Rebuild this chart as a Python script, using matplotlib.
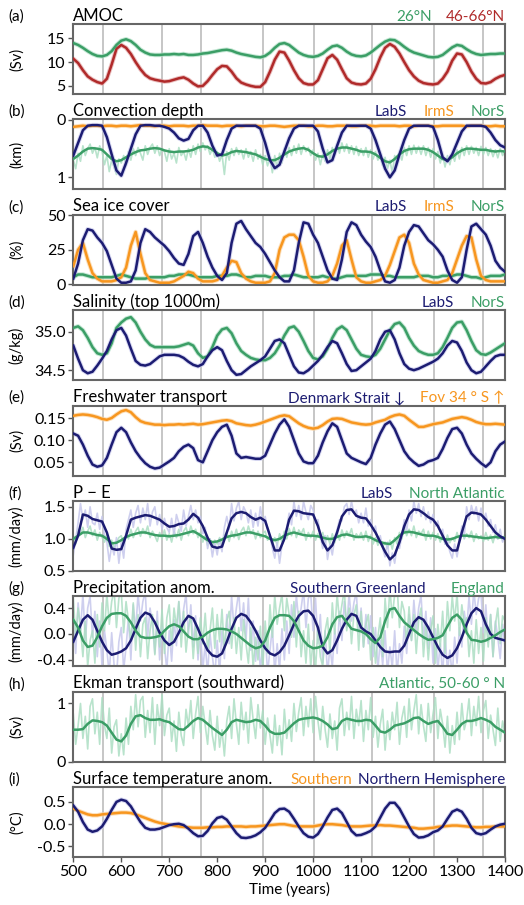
import numpy as np
import matplotlib
matplotlib.use('Agg')
import matplotlib.pyplot as plt
from matplotlib.ticker import FormatStrFormatter

plt.rcParams['font.family'] = ['Lato', 'DejaVu Sans']

# ---- data ----
years = np.arange(500, 1401, 10)
years_raw = np.arange(500, 1401, 5)
event_years = [561, 685, 766, 895, 1002, 1122, 1252, 1354]

# (a) AMOC (Sv)
amoc_26n = [14.0, 13.6, 13.0, 12.3, 11.7, 11.3, 11.2, 11.5, 12.3, 13.6,
            14.5, 14.8, 14.4, 13.6, 12.6, 12.0, 11.6, 11.5, 11.5, 11.6,
            11.6, 11.7, 11.6, 11.7, 11.5, 11.5, 11.6, 11.8, 11.9, 12.1,
            12.3, 12.5, 12.6, 12.4, 12.0, 11.7, 11.5, 11.3, 11.1, 11.0,
            11.3, 12.0, 13.0, 13.8, 14.0, 13.6, 12.8, 12.0, 11.5, 11.2,
            11.1, 11.3, 11.8, 12.6, 13.3, 13.5, 13.0, 12.2, 11.6, 11.3,
            11.2, 11.4, 12.0, 12.8, 13.6, 14.3, 14.7, 14.6, 14.0, 13.2,
            12.5, 12.0, 11.7, 11.4, 11.1, 11.0, 11.1, 11.5, 12.3, 13.1,
            13.6, 13.4, 12.7, 12.1, 11.7, 11.5, 11.6, 11.7, 11.7, 11.8,
            11.8]
amoc_4666n = [10.7, 9.8, 8.3, 7.0, 6.3, 5.8, 5.5, 6.5, 9.5, 12.8,
              13.6, 13.0, 11.7, 10.0, 8.5, 7.3, 6.6, 6.3, 6.1, 5.9,
              6.0, 6.3, 6.6, 6.8, 6.3, 5.5, 4.9, 5.0, 6.0, 7.3,
              8.5, 9.2, 9.1, 8.0, 6.6, 5.7, 5.3, 5.0, 4.8, 4.8,
              5.8, 8.0, 10.5, 12.2, 12.0, 10.3, 8.3, 6.6, 5.6, 5.3,
              5.3, 6.2, 8.5, 10.8, 11.5, 10.5, 8.5, 6.6, 5.7, 5.4,
              5.3, 5.5, 6.5, 8.5, 11.0, 13.0, 13.8, 13.2, 11.8, 10.0,
              8.3, 7.0, 6.1, 5.6, 5.4, 5.3, 5.5, 6.5, 8.0, 10.3,
              11.8, 11.6, 10.0, 8.0, 6.5, 5.6, 5.5, 5.8, 6.5, 7.0,
              7.3]

# (b) convection depth (km)
conv_labs = [0.62, 0.40, 0.18, 0.10, 0.09, 0.09, 0.10, 0.30, 0.60, 0.88,
             0.97, 0.75, 0.50, 0.25, 0.10, 0.09, 0.09, 0.10, 0.10, 0.12,
             0.15, 0.22, 0.32, 0.36, 0.33, 0.18, 0.10, 0.10, 0.22, 0.45,
             0.62, 0.60, 0.35, 0.15, 0.10, 0.10, 0.10, 0.10, 0.10, 0.15,
             0.40, 0.70, 0.84, 0.78, 0.55, 0.32, 0.15, 0.10, 0.10, 0.10,
             0.10, 0.20, 0.50, 0.74, 0.70, 0.45, 0.22, 0.10, 0.10, 0.10,
             0.10, 0.10, 0.15, 0.35, 0.60, 0.85, 1.00, 0.88, 0.60, 0.35,
             0.15, 0.10, 0.10, 0.10, 0.10, 0.12, 0.35, 0.65, 0.72, 0.60,
             0.40, 0.20, 0.10, 0.10, 0.10, 0.10, 0.12, 0.22, 0.35, 0.44,
             0.48]
conv_irms = [0.12, 0.11, 0.10, 0.11, 0.10, 0.10, 0.11, 0.10, 0.10, 0.11,
             0.10, 0.10, 0.11, 0.10, 0.09, 0.10, 0.10, 0.11, 0.10, 0.10,
             0.11, 0.10, 0.10, 0.10, 0.11, 0.10, 0.10, 0.09, 0.10, 0.10,
             0.10, 0.11, 0.10, 0.10, 0.10, 0.11, 0.10, 0.10, 0.10, 0.11,
             0.11, 0.10, 0.10, 0.11, 0.12, 0.11, 0.10, 0.10, 0.10, 0.11,
             0.11, 0.10, 0.10, 0.11, 0.11, 0.10, 0.10, 0.10, 0.11, 0.11,
             0.10, 0.10, 0.10, 0.11, 0.10, 0.10, 0.10, 0.10, 0.11, 0.10,
             0.10, 0.11, 0.10, 0.10, 0.10, 0.11, 0.11, 0.10, 0.10, 0.10,
             0.10, 0.10, 0.11, 0.10, 0.10, 0.10, 0.11, 0.11, 0.10, 0.11,
             0.11]
conv_nors = [0.68, 0.62, 0.55, 0.50, 0.49, 0.50, 0.52, 0.60, 0.68, 0.72,
             0.70, 0.65, 0.60, 0.56, 0.53, 0.52, 0.50, 0.49, 0.50, 0.53,
             0.55, 0.56, 0.55, 0.55, 0.54, 0.52, 0.48, 0.46, 0.47, 0.52,
             0.58, 0.62, 0.60, 0.56, 0.54, 0.55, 0.56, 0.58, 0.60, 0.64,
             0.68, 0.70, 0.70, 0.66, 0.60, 0.55, 0.52, 0.50, 0.49, 0.52,
             0.58, 0.63, 0.64, 0.60, 0.54, 0.50, 0.48, 0.48, 0.50, 0.52,
             0.55, 0.55, 0.56, 0.60, 0.66, 0.72, 0.74, 0.68, 0.60, 0.54,
             0.51, 0.50, 0.50, 0.50, 0.52, 0.56, 0.62, 0.68, 0.70, 0.65,
             0.58, 0.53, 0.50, 0.50, 0.51, 0.52, 0.52, 0.54, 0.55, 0.54,
             0.55]
conv_nors_raw = [0.70, 0.85, 0.58, 0.72, 0.45, 0.62, 0.50, 0.42, 0.58, 0.48, 0.66, 0.45, 0.55, 0.78, 0.62, 0.90, 0.70, 0.82, 0.95, 0.68,
                 0.75, 0.62, 0.80, 0.55, 0.70, 0.50, 0.62, 0.48, 0.58, 0.70, 0.45, 0.60, 0.48, 0.42, 0.58, 0.45, 0.62, 0.50, 0.55, 0.72,
                 0.50, 0.68, 0.58, 0.75, 0.48, 0.62, 0.55, 0.70, 0.50, 0.65, 0.45, 0.60, 0.42, 0.55, 0.40, 0.52, 0.45, 0.60, 0.50, 0.65,
                 0.55, 0.72, 0.60, 0.95, 0.55, 0.70, 0.50, 0.62, 0.48, 0.60, 0.52, 0.68, 0.50, 0.65, 0.55, 0.72, 0.52, 0.68, 0.60, 0.78,
                 0.62, 0.80, 0.65, 0.92, 0.62, 0.85, 0.58, 0.75, 0.50, 0.65, 0.48, 0.62, 0.45, 0.58, 0.42, 0.60, 0.45, 0.55, 0.48, 0.62,
                 0.52, 0.70, 0.58, 0.78, 0.60, 0.72, 0.52, 0.68, 0.48, 0.62, 0.42, 0.58, 0.40, 0.55, 0.42, 0.58, 0.45, 0.60, 0.46, 0.62,
                 0.50, 0.62, 0.48, 0.65, 0.52, 0.68, 0.55, 0.70, 0.60, 0.80, 0.65, 0.85, 0.70, 0.92, 0.62, 0.80, 0.55, 0.70, 0.48, 0.62,
                 0.45, 0.60, 0.44, 0.58, 0.46, 0.60, 0.45, 0.62, 0.48, 0.65, 0.50, 0.68, 0.55, 0.75, 0.60, 0.82, 0.62, 0.78, 0.58, 0.72,
                 0.52, 0.68, 0.48, 0.62, 0.45, 0.60, 0.46, 0.58, 0.48, 0.62, 0.46, 0.60, 0.48, 0.62, 0.50, 0.64, 0.52, 0.66, 0.50, 0.62,
                 0.52]

# (c) sea ice cover (%)
ice_labs = [4, 15, 32, 40, 39, 34, 30, 24, 14, 4,
            1, 1, 2, 10, 30, 40, 38, 34, 31, 28,
            24, 19, 15, 14, 22, 35, 38, 30, 20, 12,
            6, 3, 8, 30, 44, 46, 40, 35, 30, 27,
            22, 16, 10, 5, 2, 2, 10, 30, 45, 44,
            36, 30, 20, 10, 4, 3, 18, 38, 45, 43,
            36, 31, 27, 20, 10, 2, 1, 3, 12, 28,
            38, 43, 42, 37, 32, 29, 25, 20, 10, 3,
            1, 5, 25, 42, 44, 40, 36, 28, 17, 12,
            9]
ice_irms = [13, 25, 30, 18, 8, 4, 2, 2, 2, 3,
            5, 12, 28, 38, 22, 8, 3, 2, 1, 1,
            1, 2, 4, 6, 9, 8, 4, 2, 2, 2,
            3, 6, 12, 17, 16, 8, 4, 2, 1, 1,
            1, 2, 8, 25, 34, 36, 36, 32, 20, 6,
            2, 1, 1, 2, 6, 15, 28, 32, 18, 5,
            2, 1, 1, 2, 3, 6, 14, 24, 34, 36,
            30, 15, 7, 3, 2, 1, 1, 2, 3, 8,
            18, 28, 35, 34, 18, 6, 3, 2, 2, 2,
            2]
ice_nors = [5, 7, 7, 6, 5, 5, 5, 5, 5, 6,
            7, 6, 5, 4, 4, 4, 5, 5, 5, 5,
            6, 6, 7, 7, 7, 6, 5, 5, 5, 5,
            6, 6, 6, 7, 7, 6, 5, 5, 6, 6,
            6, 5, 5, 5, 6, 6, 7, 6, 5, 5,
            5, 5, 6, 5, 4, 4, 5, 6, 6, 6,
            6, 6, 7, 7, 7, 6, 6, 5, 5, 5,
            5, 5, 6, 6, 6, 5, 5, 6, 6, 6,
            7, 7, 6, 5, 5, 4, 5, 6, 6, 6,
            7]

# (d) salinity top 1000 m (g/kg)
sal_labs = [34.82, 34.65, 34.50, 34.46, 34.48, 34.56, 34.65, 34.75, 34.90, 35.02,
            35.05, 34.95, 34.78, 34.62, 34.57, 34.56, 34.58, 34.63, 34.68, 34.70,
            34.70, 34.70, 34.69, 34.66, 34.61, 34.57, 34.55, 34.58, 34.68, 34.76,
            34.80, 34.76, 34.62, 34.50, 34.44, 34.45, 34.50, 34.55, 34.59, 34.63,
            34.68, 34.78, 34.88, 34.90, 34.85, 34.70, 34.55, 34.47, 34.46, 34.50,
            34.56, 34.62, 34.70, 34.80, 34.88, 34.85, 34.72, 34.58, 34.49, 34.50,
            34.55, 34.60, 34.65, 34.75, 34.90, 35.00, 35.02, 34.90, 34.72, 34.58,
            34.52, 34.50, 34.52, 34.55, 34.58, 34.61, 34.65, 34.72, 34.82, 34.88,
            34.86, 34.75, 34.60, 34.50, 34.46, 34.48, 34.55, 34.62, 34.68, 34.70,
            34.70]
sal_nors = [35.05, 35.07, 35.02, 34.92, 34.80, 34.72, 34.70, 34.72, 34.85, 35.05,
            35.12, 35.17, 35.19, 35.12, 35.00, 34.90, 34.83, 34.80, 34.80, 34.80,
            34.80, 34.80, 34.81, 34.83, 34.85, 34.82, 34.72, 34.66, 34.68, 34.80,
            34.95, 35.03, 35.05, 34.98, 34.85, 34.75, 34.70, 34.66, 34.64, 34.63,
            34.63, 34.66, 34.72, 34.82, 34.95, 35.05, 35.07, 35.00, 34.88, 34.75,
            34.66, 34.64, 34.68, 34.78, 34.92, 35.03, 35.07, 35.02, 34.90, 34.78,
            34.70, 34.68, 34.67, 34.70, 34.78, 34.90, 35.02, 35.10, 35.12, 35.05,
            34.92, 34.82, 34.75, 34.72, 34.70, 34.70, 34.72, 34.80, 34.92, 35.05,
            35.12, 35.13, 35.02, 34.88, 34.76, 34.71, 34.70, 34.73, 34.77, 34.81,
            34.85]

# (e) freshwater transport (Sv)
fw_denmark = [0.115, 0.110, 0.090, 0.065, 0.045, 0.040, 0.043, 0.060, 0.090, 0.118,
              0.128, 0.118, 0.095, 0.075, 0.060, 0.048, 0.040, 0.036, 0.038, 0.045,
              0.052, 0.060, 0.075, 0.085, 0.090, 0.082, 0.055, 0.050, 0.075, 0.100,
              0.118, 0.130, 0.135, 0.110, 0.070, 0.060, 0.062, 0.060, 0.058, 0.058,
              0.065, 0.090, 0.115, 0.135, 0.147, 0.130, 0.100, 0.070, 0.052, 0.048,
              0.048, 0.065, 0.095, 0.120, 0.138, 0.130, 0.100, 0.070, 0.060, 0.055,
              0.050, 0.046, 0.060, 0.090, 0.115, 0.135, 0.142, 0.125, 0.100, 0.075,
              0.060, 0.050, 0.042, 0.045, 0.052, 0.055, 0.060, 0.080, 0.105, 0.125,
              0.128, 0.115, 0.090, 0.070, 0.058, 0.048, 0.040, 0.050, 0.075, 0.090,
              0.097]
fw_fov = [0.155, 0.157, 0.158, 0.157, 0.155, 0.152, 0.148, 0.146, 0.150, 0.158,
          0.165, 0.168, 0.163, 0.152, 0.143, 0.139, 0.137, 0.135, 0.135, 0.134,
          0.135, 0.135, 0.136, 0.135, 0.136, 0.137, 0.135, 0.136, 0.138, 0.140,
          0.142, 0.144, 0.145, 0.143, 0.138, 0.136, 0.134, 0.133, 0.135, 0.138,
          0.142, 0.146, 0.150, 0.154, 0.156, 0.154, 0.146, 0.138, 0.132, 0.128,
          0.126, 0.128, 0.134, 0.142, 0.148, 0.149, 0.148, 0.144, 0.140, 0.138,
          0.136, 0.135, 0.136, 0.140, 0.143, 0.146, 0.152, 0.156, 0.158, 0.155,
          0.146, 0.138, 0.130, 0.130, 0.133, 0.136, 0.138, 0.140, 0.144, 0.148,
          0.150, 0.152, 0.150, 0.146, 0.141, 0.138, 0.136, 0.136, 0.137, 0.136,
          0.135]

# (f) P - E (mm/day)
pe_labs = [0.86, 1.05, 1.38, 1.36, 1.31, 1.29, 1.27, 1.10, 0.85, 0.83,
           0.84, 1.05, 1.30, 1.33, 1.35, 1.37, 1.36, 1.33, 1.30, 1.24,
           1.19, 1.20, 1.23, 1.24, 1.30, 1.39, 1.33, 1.20, 1.02, 0.88,
           0.86, 0.88, 1.10, 1.32, 1.40, 1.42, 1.40, 1.34, 1.30, 1.33,
           1.28, 1.05, 0.82, 0.82, 1.00, 1.30, 1.44, 1.43, 1.40, 1.39,
           1.38, 1.20, 0.95, 0.82, 0.90, 1.10, 1.35, 1.45, 1.46, 1.36,
           1.33, 1.32, 1.22, 1.10, 0.95, 0.80, 0.68, 0.75, 0.95, 1.20,
           1.38, 1.46, 1.45, 1.40, 1.34, 1.30, 1.20, 1.05, 0.90, 0.82,
           0.82, 1.10, 1.35, 1.41, 1.40, 1.38, 1.30, 1.20, 1.10, 1.04,
           1.00]
pe_natl = [1.00, 1.05, 1.10, 1.10, 1.08, 1.06, 1.05, 1.00, 0.93, 0.94,
           0.98, 1.03, 1.06, 1.08, 1.10, 1.10, 1.08, 1.06, 1.05, 1.05,
           1.04, 1.05, 1.06, 1.08, 1.10, 1.12, 1.08, 1.03, 0.98, 0.95,
           0.96, 0.99, 1.03, 1.05, 1.06, 1.08, 1.10, 1.10, 1.08, 1.06,
           1.04, 1.00, 0.98, 1.00, 1.05, 1.08, 1.10, 1.08, 1.06, 1.05,
           1.05, 1.04, 1.02, 1.00, 1.00, 1.03, 1.06, 1.07, 1.05, 1.03,
           1.03, 1.04, 1.02, 0.98, 0.95, 0.93, 0.92, 0.98, 1.05, 1.10,
           1.11, 1.10, 1.08, 1.06, 1.05, 1.05, 1.03, 1.00, 0.99, 1.00,
           1.03, 1.05, 1.05, 1.04, 1.03, 1.02, 1.01, 1.02, 1.03, 1.02,
           1.02]
pe_labs_raw = [0.75, 1.00, 1.25, 1.55, 1.30, 1.45, 1.18, 1.50, 1.25, 1.22, 1.40, 1.15, 1.35, 1.05, 0.95, 0.65, 0.90, 0.75, 1.02, 0.62,
               0.95, 0.70, 1.15, 1.30, 1.45, 1.18, 1.40, 1.52, 1.25, 1.48, 1.30, 1.55, 1.20, 1.42, 1.50, 1.22, 1.38, 1.15, 1.32, 1.18,
               1.10, 1.32, 1.05, 1.38, 1.25, 1.12, 1.45, 1.20, 1.35, 1.52, 1.30, 1.45, 1.25, 1.35, 1.08, 1.18, 0.85, 1.00, 0.72, 0.95,
               0.75, 1.00, 0.80, 1.18, 1.35, 1.15, 1.55, 1.28, 1.48, 1.58, 1.30, 1.50, 1.42, 1.25, 1.45, 1.18, 1.40, 1.20, 1.50, 1.25,
               1.35, 1.15, 1.05, 0.85, 0.70, 0.95, 0.62, 0.90, 1.00, 1.18, 1.40, 1.22, 1.58, 1.35, 1.52, 1.30, 1.58, 1.42, 1.30, 1.52,
               1.45, 1.25, 1.30, 1.05, 0.85, 1.05, 0.68, 0.92, 0.75, 1.02, 1.15, 1.30, 1.28, 1.50, 1.55, 1.38, 1.58, 1.40, 1.45, 1.25,
               1.40, 1.25, 1.48, 1.20, 1.30, 1.12, 1.20, 0.95, 1.05, 0.85, 0.72, 0.95, 0.58, 0.78, 0.62, 0.88, 0.85, 1.05, 1.30, 1.12,
               1.45, 1.28, 1.58, 1.40, 1.55, 1.35, 1.50, 1.30, 1.42, 1.25, 1.38, 1.20, 1.28, 1.10, 1.15, 0.92, 0.98, 0.80, 0.70, 0.92,
               0.72, 0.95, 1.20, 1.02, 1.50, 1.30, 1.52, 1.38, 1.50, 1.28, 1.48, 1.30, 1.40, 1.20, 1.30, 1.10, 1.22, 1.00, 1.15, 0.95,
               1.05]
pe_natl_raw = [1.05, 0.92, 1.15, 1.08, 1.18, 1.02, 1.12, 1.20, 1.05, 1.14, 0.98, 1.10, 1.02, 0.95, 1.08, 0.88, 0.98, 0.85, 0.95, 1.02,
               1.05, 0.90, 1.08, 1.00, 1.15, 1.02, 1.12, 1.18, 1.04, 1.16, 1.08, 1.20, 1.02, 1.12, 1.05, 0.96, 1.10, 1.00, 1.14, 0.98,
               1.08, 0.95, 1.12, 1.02, 1.15, 0.98, 1.12, 1.18, 1.05, 1.20, 1.08, 1.15, 1.02, 1.10, 0.95, 1.05, 0.90, 1.00, 0.88, 0.98,
               0.92, 1.02, 0.90, 1.06, 1.10, 0.96, 1.12, 1.02, 1.15, 0.99, 1.12, 1.18, 1.05, 1.20, 1.08, 1.14, 1.00, 1.12, 1.02, 1.08,
               1.12, 0.98, 1.05, 0.92, 1.02, 0.90, 1.08, 0.95, 1.12, 1.00, 1.16, 1.05, 1.18, 1.02, 1.14, 1.08, 1.16, 0.98, 1.10, 1.02,
               1.12, 0.98, 1.08, 1.00, 1.10, 0.95, 1.05, 0.92, 1.08, 0.94, 1.10, 0.98, 1.14, 1.02, 1.12, 1.05, 1.16, 0.98, 1.08, 1.02,
               1.10, 0.98, 1.12, 0.96, 1.06, 0.92, 1.02, 0.90, 0.98, 0.88, 0.95, 0.86, 0.98, 0.84, 1.02, 0.92, 1.10, 1.00, 1.18, 1.05,
               1.15, 1.05, 1.20, 1.02, 1.12, 1.08, 1.15, 0.98, 1.12, 1.00, 1.10, 0.98, 1.08, 0.95, 1.05, 0.92, 1.06, 0.94, 1.02, 0.96,
               1.10, 0.98, 1.12, 1.00, 1.08, 1.02, 1.12, 0.96, 1.08, 1.00, 1.05, 0.96, 1.10, 0.98, 1.06, 0.94, 1.08, 1.00, 1.05, 0.98,
               1.06]

# (g) precipitation anomaly (mm/day)
pr_sgreen = [-0.12, 0.05, 0.22, 0.29, 0.22, 0.05, -0.12, -0.25, -0.32, -0.30,
             -0.27, -0.22, -0.10, 0.08, 0.25, 0.33, 0.30, 0.18, 0.02, -0.10,
             -0.17, -0.12, 0.02, 0.18, 0.28, 0.24, 0.08, -0.10, -0.25, -0.33,
             -0.35, -0.30, -0.12, 0.08, 0.25, 0.31, 0.28, 0.18, 0.05, -0.10,
             -0.22, -0.30, -0.33, -0.28, -0.18, -0.02, 0.15, 0.28, 0.35, 0.36,
             0.28, 0.10, -0.20, -0.30, -0.25, -0.10, 0.08, 0.22, 0.31, 0.28,
             0.10, 0.04, 0.00, -0.10, -0.20, -0.27, -0.28, -0.27, -0.27, -0.18,
             0.00, 0.18, 0.26, 0.22, 0.10, -0.05, -0.20, -0.32, -0.37, -0.33,
             -0.22, -0.05, 0.15, 0.32, 0.40, 0.35, 0.15, 0.00, -0.06, -0.08,
             -0.10]
pr_england = [0.22, 0.10, -0.10, -0.20, -0.18, -0.05, 0.12, 0.25, 0.31, 0.32,
              0.32, 0.28, 0.18, 0.05, -0.04, -0.06, -0.06, -0.05, -0.03, 0.05,
              0.12, 0.15, 0.12, 0.04, -0.04, -0.08, -0.08, -0.04, 0.02, 0.06,
              0.08, 0.08, 0.07, 0.04, 0.00, -0.06, -0.12, -0.18, -0.22, -0.20,
              -0.10, 0.10, 0.25, 0.29, 0.29, 0.28, 0.20, 0.05, -0.10, -0.18,
              -0.22, -0.21, -0.18, -0.05, 0.15, 0.26, 0.28, 0.18, 0.08, 0.06,
              0.04, 0.00, -0.08, -0.14, -0.05, 0.20, 0.38, 0.40, 0.28, 0.18,
              0.12, 0.06, 0.00, -0.05, -0.09, -0.08, -0.06, -0.02, 0.12, 0.25,
              0.30, 0.22, 0.02, -0.09, -0.10, -0.12, -0.10, -0.06, -0.02, 0.03,
              0.07]
pr_sgreen_raw = [0.15, -0.30, 0.48, 0.05, 0.62, -0.10, 0.40, 0.58, -0.05, 0.35, -0.35, 0.20, -0.52, 0.05, -0.25, -0.62, 0.02, -0.48, -0.65, -0.12,
                 0.10, -0.55, -0.20, 0.25, -0.40, 0.45, 0.05, 0.62, 0.20, 0.50, 0.65, -0.05, 0.40, 0.15, -0.30, 0.35, -0.40, 0.10, -0.20, -0.55,
                 0.05, -0.42, 0.22, -0.18, 0.50, 0.02, 0.38, 0.62, -0.02, 0.45, -0.20, 0.28, -0.40, 0.05, -0.55, -0.15, -0.62, 0.00, -0.35, -0.65,
                 -0.10, -0.60, 0.05, -0.38, 0.30, -0.15, 0.58, 0.10, 0.40, 0.65, 0.05, 0.48, -0.10, 0.55, -0.25, 0.20, -0.42, 0.05, -0.55, -0.20,
                 0.02, -0.60, -0.25, 0.10, -0.62, -0.15, -0.55, 0.08, -0.40, 0.20, -0.30, 0.45, -0.05, 0.60, 0.20, 0.40, 0.68, 0.10, 0.55, 0.62,
                 0.05, 0.55, -0.15, 0.30, -0.45, 0.05, -0.62, -0.20, -0.50, 0.08, -0.30, 0.35, -0.10, 0.50, 0.10, 0.62, 0.20, 0.48, 0.65, 0.02,
                 0.40, -0.20, 0.30, -0.15, 0.28, -0.35, 0.10, -0.55, -0.10, -0.48, 0.05, -0.60, -0.20, -0.52, 0.05, -0.62, -0.15, -0.45, 0.12, -0.30,
                 0.30, -0.10, 0.52, 0.05, 0.40, 0.60, -0.08, 0.35, -0.22, 0.25, -0.45, 0.08, -0.55, -0.15, -0.62, 0.02, -0.58, -0.25, -0.65, -0.05,
                 -0.45, 0.10, -0.20, 0.35, 0.05, 0.58, 0.15, 0.68, 0.30, 0.55, 0.62, 0.02, 0.45, -0.12, 0.30, -0.35, 0.20, -0.05, -0.38, 0.15,
                 -0.20]
pr_england_raw = [0.55, -0.05, 0.40, 0.10, -0.35, 0.20, -0.50, -0.10, 0.05, -0.45, 0.30, -0.20, 0.48, 0.05, 0.62, 0.15, 0.50, 0.68, 0.10, 0.55,
                  0.65, 0.02, 0.50, 0.20, -0.10, 0.48, -0.25, 0.30, -0.35, 0.15, 0.25, -0.38, 0.05, 0.30, -0.32, 0.20, -0.20, 0.38, -0.30, 0.25,
                  0.45, -0.18, 0.40, 0.10, 0.50, -0.20, 0.35, -0.28, 0.10, 0.28, -0.38, 0.12, -0.30, 0.25, -0.15, 0.32, -0.25, 0.05, 0.40, -0.22,
                  0.30, -0.12, 0.38, -0.25, 0.20, 0.35, -0.22, 0.25, -0.30, 0.10, -0.40, 0.22, -0.15, -0.45, 0.10, -0.52, -0.05, -0.40, 0.12, -0.55,
                  0.20, -0.30, 0.45, -0.05, 0.60, 0.15, 0.40, 0.62, 0.05, 0.55, 0.30, -0.05, 0.50, -0.20, 0.35, -0.35, 0.05, -0.45, 0.15, -0.50,
                  -0.10, -0.55, 0.10, -0.35, -0.50, 0.05, 0.25, -0.30, 0.48, 0.00, 0.62, 0.20, 0.45, 0.68, 0.05, 0.40, -0.15, 0.30, 0.45, -0.25,
                  0.35, -0.20, 0.15, 0.30, -0.40, 0.10, -0.45, -0.05, 0.25, -0.35, 0.55, 0.10, 0.70, 0.25, 0.62, 0.75, 0.10, 0.50, 0.35, -0.15,
                  0.42, -0.10, 0.30, -0.30, 0.22, 0.40, -0.35, 0.15, -0.40, 0.05, 0.28, -0.45, 0.15, -0.20, 0.35, -0.30, 0.50, 0.05, 0.58, 0.20,
                  0.62, -0.02, 0.45, 0.15, 0.25, -0.35, 0.05, -0.45, 0.22, -0.30, 0.10, -0.42, 0.25, -0.20, 0.30, -0.35, 0.15, 0.40, -0.15, 0.28,
                  0.20]

# (h) Ekman transport (Sv)
ekman = [0.55, 0.55, 0.56, 0.65, 0.71, 0.70, 0.68, 0.62, 0.50, 0.38,
         0.35, 0.45, 0.65, 0.78, 0.80, 0.75, 0.72, 0.72, 0.73, 0.70,
         0.68, 0.62, 0.56, 0.55, 0.62, 0.70, 0.75, 0.72, 0.65, 0.58,
         0.52, 0.46, 0.55, 0.68, 0.72, 0.70, 0.68, 0.69, 0.72, 0.70,
         0.62, 0.52, 0.48, 0.48, 0.50, 0.58, 0.66, 0.72, 0.74, 0.75,
         0.76, 0.74, 0.70, 0.64, 0.56, 0.58, 0.70, 0.74, 0.72, 0.70,
         0.70, 0.72, 0.71, 0.62, 0.52, 0.50, 0.55, 0.62, 0.64, 0.66,
         0.70, 0.75, 0.76, 0.70, 0.65, 0.68, 0.70, 0.60, 0.48, 0.46,
         0.55, 0.65, 0.70, 0.70, 0.72, 0.75, 0.72, 0.68, 0.60, 0.55,
         0.50]
ekman_raw = [0.82, 0.30, 0.62, 1.00, 0.40, 0.78, 0.22, 0.95, 1.08, 0.48, 0.85, 0.30, 1.10, 0.62, 0.40, 0.92, 0.15, 0.60, 0.72, 0.10,
             0.48, 0.12, 0.75, 0.30, 0.95, 0.55, 1.15, 0.60, 1.05, 1.12, 0.42, 0.88, 0.50, 1.10, 0.30, 0.98, 0.62, 1.15, 0.45, 0.80,
             0.92, 0.35, 0.70, 0.18, 0.85, 0.45, 0.28, 0.90, 0.60, 1.05, 0.40, 0.82, 1.12, 0.50, 0.95, 0.62, 0.30, 0.88, 0.45, 0.20,
             0.78, 0.25, 0.55, 0.10, 0.70, 0.95, 0.40, 1.08, 0.65, 0.30, 1.02, 0.55, 0.85, 0.32, 1.10, 0.72, 0.40, 0.98, 0.58, 0.88,
             0.30, 0.75, 0.45, 0.15, 0.80, 0.28, 0.62, 0.12, 0.90, 0.40, 0.72, 0.35, 1.00, 0.52, 0.85, 1.10, 0.45, 0.95, 0.60, 1.08,
             0.50, 1.12, 0.70, 0.38, 0.95, 0.55, 0.25, 0.82, 0.40, 0.70, 0.20, 0.92, 1.08, 0.45, 0.85, 0.55, 1.12, 0.40, 0.90, 0.62,
             1.05, 0.35, 0.88, 0.55, 1.10, 0.42, 0.78, 0.25, 0.65, 0.90, 0.20, 0.70, 0.38, 0.85, 0.55, 1.02, 0.30, 0.75, 0.95, 0.42,
             1.08, 0.55, 0.88, 1.15, 0.48, 0.98, 0.62, 0.35, 1.00, 0.50, 0.82, 1.10, 0.40, 0.90, 0.65, 0.25, 0.78, 0.15, 0.62, 0.30,
             0.85, 0.38, 1.00, 0.55, 0.72, 1.08, 0.45, 0.95, 0.62, 1.12, 0.50, 0.88, 1.05, 0.40, 0.80, 0.55, 0.28, 0.92, 0.35, 0.70,
             0.45]

# (i) surface temperature anomaly (degC)
sat_nh = [0.42, 0.28, 0.05, -0.12, -0.17, -0.14, -0.05, 0.12, 0.32, 0.50,
          0.55, 0.52, 0.40, 0.22, 0.05, -0.08, -0.12, -0.12, -0.10, -0.06,
          -0.02, 0.00, 0.01, -0.02, -0.10, -0.20, -0.27, -0.26, -0.15, 0.02,
          0.14, 0.17, 0.10, -0.05, -0.20, -0.30, -0.31, -0.29, -0.25, -0.18,
          -0.08, 0.08, 0.25, 0.34, 0.35, 0.28, 0.12, -0.05, -0.20, -0.28,
          -0.30, -0.22, -0.05, 0.15, 0.32, 0.35, 0.25, 0.05, -0.15, -0.25,
          -0.24, -0.20, -0.15, -0.05, 0.15, 0.35, 0.48, 0.48, 0.35, 0.15,
          -0.05, -0.22, -0.30, -0.29, -0.25, -0.18, -0.14, -0.05, 0.12, 0.28,
          0.33, 0.28, 0.12, -0.08, -0.20, -0.23, -0.20, -0.12, -0.05, -0.01,
          0.01]
sat_sh = [0.35, 0.30, 0.26, 0.22, 0.20, 0.20, 0.22, 0.23, 0.24, 0.25,
          0.26, 0.26, 0.25, 0.22, 0.18, 0.14, 0.10, 0.06, 0.03, 0.01,
          -0.01, -0.03, -0.05, -0.06, -0.07, -0.08, -0.08, -0.08, -0.07, -0.07,
          -0.06, -0.06, -0.05, -0.05, -0.05, -0.05, -0.06, -0.05, -0.05, -0.04,
          -0.03, -0.02, -0.01, 0.00, 0.00, -0.02, -0.04, -0.05, -0.05, -0.05,
          -0.05, -0.03, -0.01, 0.00, 0.00, -0.01, -0.02, -0.04, -0.05, -0.05,
          -0.05, -0.04, -0.03, -0.03, -0.02, -0.03, -0.03, -0.04, -0.05, -0.06,
          -0.07, -0.08, -0.10, -0.10, -0.09, -0.08, -0.06, -0.05, -0.04, -0.03,
          -0.03, -0.04, -0.05, -0.06, -0.07, -0.07, -0.06, -0.06, -0.05, -0.05,
          -0.05]

# ---- colours ----
NAVY = '#1c1c72'
ORANGE = '#f7961f'
GREEN = '#3b9e66'
RED = '#b02a2a'
LIGHT = {NAVY: '#c6c7ec', ORANGE: '#fbd29e', GREEN: '#acdec3', RED: '#e2a6a6'}

W, H = 524, 905
fig = plt.figure(figsize=(W / 100, H / 100), dpi=100)

panels = [
    dict(letter='(a)', title='AMOC', ylabel='(Sv)', ylim=(3.3, 18.0), yticks=[5, 10, 15], fmt='%d',
         series=[(amoc_4666n, RED, None), (amoc_26n, GREEN, None)],
         labels=[('26°N', GREEN), ('46-66°N', RED)], gap=10),
    dict(letter='(b)', title='Convection depth', ylabel='(km)', ylim=(1.21, -0.01), yticks=[0, 1], fmt='%d',
         series=[(conv_nors, GREEN, conv_nors_raw), (conv_irms, ORANGE, None), (conv_labs, NAVY, None)],
         labels=[('LabS', NAVY), ('IrmS', ORANGE), ('NorS', GREEN)], gap=12),
    dict(letter='(c)', title='Sea ice cover', ylabel='(%)', ylim=(-0.5, 50.5), yticks=[0, 25, 50], fmt='%d',
         series=[(ice_nors, GREEN, None), (ice_irms, ORANGE, None), (ice_labs, NAVY, None)],
         labels=[('LabS', NAVY), ('IrmS', ORANGE), ('NorS', GREEN)], gap=12),
    dict(letter='(d)', title='Salinity (top 1000m)', ylabel='(g/kg)', ylim=(34.37, 35.28), yticks=[34.5, 35.0], fmt='%.1f',
         series=[(sal_nors, GREEN, None), (sal_labs, NAVY, None)],
         labels=[('LabS', NAVY), ('NorS', GREEN)], gap=12),
    dict(letter='(e)', title='Freshwater transport', ylabel='(Sv)', ylim=(0.02, 0.178), yticks=[0.05, 0.10, 0.15], fmt='%.2f',
         series=[(fw_fov, ORANGE, None), (fw_denmark, NAVY, None)],
         labels=[('Denmark Strait ↓', NAVY), ('Fov 34 ° S ↑', ORANGE)], gap=11),
    dict(letter='(f)', title='P − E', ylabel='(mm/day)', ylim=(0.5, 1.59), yticks=[0.5, 1.0, 1.5], fmt='%.1f',
         series=[(pe_natl, GREEN, pe_natl_raw), (pe_labs, NAVY, pe_labs_raw)],
         labels=[('LabS', NAVY), ('North Atlantic', GREEN)], gap=12),
    dict(letter='(g)', title='Precipitation anom.', ylabel='(mm/day)', ylim=(-0.5, 0.58), yticks=[-0.4, 0.0, 0.4], fmt='%.1f',
         series=[(pr_sgreen, NAVY, pr_sgreen_raw), (pr_england, GREEN, pr_england_raw)],
         labels=[('Southern Greenland', NAVY), ('England', GREEN)], gap=18),
    dict(letter='(h)', title='Ekman transport (southward)', ylabel='(Sv)', ylim=(0, 1.2), yticks=[0, 1], fmt='%d',
         series=[(ekman, GREEN, ekman_raw)],
         labels=[('Atlantic, 50-60 ° N', GREEN)], gap=12),
    dict(letter='(i)', title='Surface temperature anom.', ylabel='(°C)', ylim=(-0.74, 0.83), yticks=[-0.5, 0.0, 0.5], fmt='%.1f',
         series=[(sat_sh, ORANGE, None), (sat_nh, NAVY, None)],
         labels=[('Southern', ORANGE), ('Northern Hemisphere', NAVY)], gap=4),
]

FS_TICK = 11.5
FS_LAB = 11
for i, p in enumerate(panels):
    top = 24 + i * 95.4
    h = 70
    ax = fig.add_axes([73.3 / W, 1 - (top + h) / H, 431.7 / W, h / H])

    for ev in event_years:
        ax.axvline(ev, color='#c2c2c2', lw=1.3, zorder=0)

    # light raw / spread first
    for vals, col, raw in p['series']:
        if raw is not None:
            ax.plot(years_raw, raw, color=LIGHT[col], lw=1.2, alpha=0.85, zorder=1)
        else:
            ax.plot(years, vals, color=LIGHT[col], lw=3.2, alpha=0.7, zorder=1,
                    solid_capstyle='round')
    for vals, col, raw in p['series']:
        ax.plot(years, vals, color=col, lw=1.8, zorder=3)

    ax.set_xlim(500, 1400)
    ax.set_ylim(*p['ylim'])
    ax.set_yticks(p['yticks'])
    ax.yaxis.set_major_formatter(FormatStrFormatter(p['fmt']))
    ax.tick_params(axis='y', labelsize=FS_TICK, length=3.5, width=1, color='#555555', pad=2)
    for s in ax.spines.values():
        s.set_color('#666666')
        s.set_linewidth(1.5)
    if i < len(panels) - 1:
        ax.tick_params(axis='x', bottom=False, labelbottom=False)
    else:
        ax.set_xticks(range(500, 1401, 100))
        ax.tick_params(axis='x', labelsize=FS_TICK, length=3.5, width=1, color='#555555', pad=2)
        ax.set_xlabel('Time (years)', fontsize=11, labelpad=2)

    ax.set_ylabel(p['ylabel'], fontsize=10.5)
    ax.yaxis.set_label_coords(-0.115, 0.5)

    # panel letter and title
    fig.text(8 / W, 1 - (top - 3.5) / H, p['letter'], fontsize=FS_LAB, va='baseline', ha='left')
    ax.annotate(p['title'], xy=(0, 1), xycoords='axes fraction', xytext=(0, 2.5),
                textcoords='offset points', ha='left', va='baseline', fontsize=12)

    # coloured series names, chained from the right edge
    prev = None
    for text, col in reversed(p['labels']):
        if prev is None:
            prev = ax.annotate(text, xy=(1, 1), xycoords='axes fraction', xytext=(0, 2.5),
                               textcoords='offset points', ha='right', va='baseline',
                               fontsize=FS_LAB, color=col)
        else:
            prev = ax.annotate(text, xy=(0, 0), xycoords=prev, xytext=(-p['gap'], 0),
                               textcoords='offset points', ha='right', va='bottom',
                               fontsize=FS_LAB, color=col)

fig.savefig('out.png', dpi=100)
